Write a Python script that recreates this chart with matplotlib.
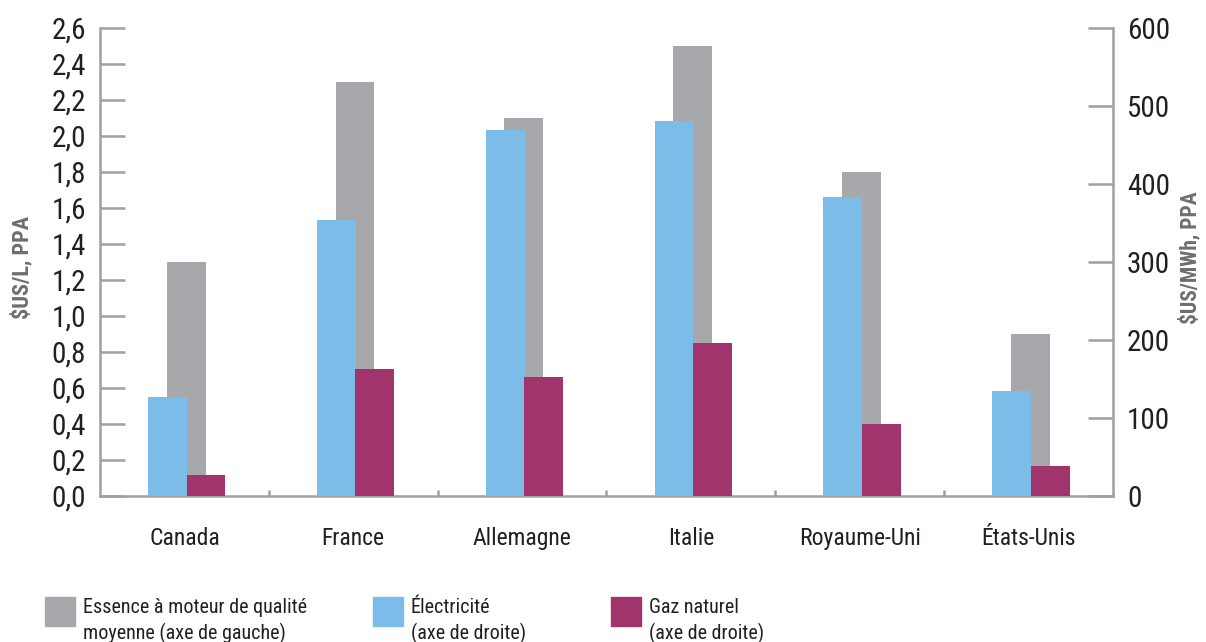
import matplotlib
matplotlib.use("Agg")
import matplotlib.pyplot as plt
from matplotlib import font_manager
from matplotlib.patches import Rectangle
from matplotlib.ticker import FixedLocator, FuncFormatter
import numpy as np

# données
pays = ["Canada", "France", "Allemagne", "Italie", "Royaume-Uni", "États-Unis"]
essence = [1.30, 2.30, 2.10, 2.50, 1.80, 0.90]      # $US/L, axe de gauche
electricite = [127, 354, 469, 481, 383, 135]       # $US/MWh, axe de droite
gaz = [27, 163, 153, 196, 92, 38]                  # $US/MWh, axe de droite

noms = {f.name for f in font_manager.fontManager.ttflist}
police = "Liberation Sans"
for p in ["Liberation Sans Narrow", "DejaVu Sans Condensed", "Roboto Condensed"]:
    if p in noms:
        police = p
        break
plt.rcParams["font.family"] = [police, "DejaVu Sans"]

gris = "#a7a8ac"
bleu = "#7bbde8"
magenta = "#a1346c"
axe = "#a0a0a0"

fig = plt.figure(figsize=(12.06, 6.42), dpi=100)
ax = fig.add_axes([0.0829, 0.2274, 0.84, 0.729])
ax2 = ax.twinx()
ax.set_zorder(1)
ax2.set_zorder(2)
ax.patch.set_visible(False)
ax2.patch.set_visible(False)

x = np.arange(len(pays))
w = 0.23
ax.bar(x + 0.01, essence, w, color=gris, zorder=1)
ax2.bar(x - 0.10, electricite, w, color=bleu)
ax2.bar(x + 0.128, gaz, w, color=magenta)

ax.set_xlim(-0.5, len(pays) - 0.5)
ax.set_ylim(0, 2.6)
ax2.set_ylim(0, 600)

ax.set_yticks(np.arange(0, 2.61, 0.2))
ax.yaxis.set_major_formatter(FuncFormatter(lambda v, p: f"{v:.1f}".replace(".", ",")))
ax2.set_yticks(range(0, 601, 100))

ax.set_xticks(x)
ax.set_xticklabels(pays, fontsize=17)
ax.xaxis.set_minor_locator(FixedLocator(np.arange(0.5, len(pays) - 0.5, 1)))
ax.tick_params(axis="x", which="major", length=0, pad=22, colors="#231f20")
ax.tick_params(axis="x", which="minor", direction="in", length=4.5, width=1.8, color=axe)
ax.tick_params(axis="y", direction="in", length=18, width=1.8, color=axe,
               labelsize=21, labelcolor="#231f20", pad=10)
ax2.tick_params(axis="y", direction="in", length=18, width=1.8, color=axe,
                labelsize=21, labelcolor="#231f20", pad=10)

for a in (ax, ax2):
    for s in a.spines.values():
        s.set_visible(False)
ax.spines["left"].set_visible(True)
ax.spines["bottom"].set_visible(True)
ax2.spines["right"].set_visible(True)
for s in (ax.spines["left"], ax.spines["bottom"], ax2.spines["right"]):
    s.set_color(axe)
    s.set_linewidth(1.8)

fig.text(0.018, 0.5826, "\\$US/L, PPA", rotation=90, ha="center", va="center",
         fontsize=16, fontweight="bold", color="#6d6e71")
fig.text(0.987, 0.598, "\\$US/MWh, PPA", rotation=90, ha="center", va="center",
         fontsize=15.5, fontweight="bold", color="#6d6e71")

# légende
legende = [
    (45, gris, "Essence à moteur de qualité\nmoyenne (axe de gauche)"),
    (373, bleu, "Électricité\n(axe de droite)"),
    (611, magenta, "Gaz naturel\n(axe de droite)"),
]
W, H = 1206, 642
for px, c, txt in legende:
    fig.add_artist(Rectangle((px / W, (H - 626) / H), 30 / W, 29 / H,
                             transform=fig.transFigure, color=c))
    fig.text((px + 38) / W, (H - 621) / H, txt, fontsize=14.5, color="#231f20",
             ha="left", va="center", linespacing=1.4)

fig.savefig("out.png", dpi=100)
